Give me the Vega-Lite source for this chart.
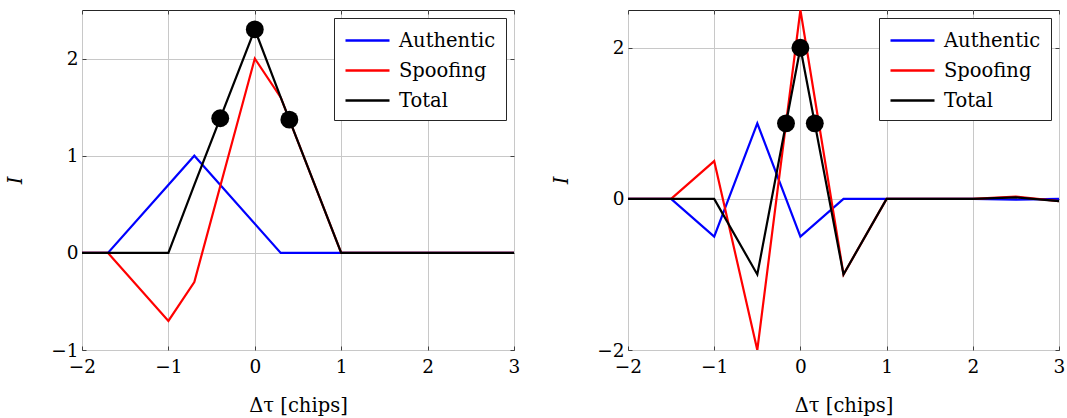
{
  "$schema": "https://vega.github.io/schema/vega-lite/v6.json",
  "padding": {"left": 5, "top": 9, "right": 0, "bottom": 0},
  "datasets": {
    "leftLines": [
      {"tau": -2, "I": 0, "series": "Authentic"},
      {"tau": -1.7, "I": 0, "series": "Authentic"},
      {"tau": -0.7, "I": 1, "series": "Authentic"},
      {"tau": 0.3, "I": 0, "series": "Authentic"},
      {"tau": 1, "I": 0, "series": "Authentic"},
      {"tau": 3, "I": 0, "series": "Authentic"},
      {"tau": -2, "I": 0, "series": "Spoofing"},
      {"tau": -1.7, "I": 0, "series": "Spoofing"},
      {"tau": -1, "I": -0.7, "series": "Spoofing"},
      {"tau": -0.7, "I": -0.3, "series": "Spoofing"},
      {"tau": 0, "I": 2, "series": "Spoofing"},
      {"tau": 0.3, "I": 1.6, "series": "Spoofing"},
      {"tau": 1, "I": 0, "series": "Spoofing"},
      {"tau": 3, "I": 0, "series": "Spoofing"},
      {"tau": -2, "I": 0, "series": "Total"},
      {"tau": -1.7, "I": 0, "series": "Total"},
      {"tau": -1, "I": 0, "series": "Total"},
      {"tau": -0.7, "I": 0.7, "series": "Total"},
      {"tau": 0, "I": 2.3, "series": "Total"},
      {"tau": 0.3, "I": 1.6, "series": "Total"},
      {"tau": 1, "I": 0, "series": "Total"},
      {"tau": 3, "I": 0, "series": "Total"}
    ],
    "leftDots": [
      {"tau": -0.4, "I": 1.386},
      {"tau": 0, "I": 2.3},
      {"tau": 0.4, "I": 1.371}
    ],
    "rightLines": [
      {"tau": -2, "I": 0, "series": "Authentic"},
      {"tau": -1.5, "I": 0, "series": "Authentic"},
      {"tau": -1, "I": -0.5, "series": "Authentic"},
      {"tau": -0.5, "I": 1, "series": "Authentic"},
      {"tau": 0, "I": -0.5, "series": "Authentic"},
      {"tau": 0.5, "I": 0, "series": "Authentic"},
      {"tau": 1, "I": 0, "series": "Authentic"},
      {"tau": 1.5, "I": 0, "series": "Authentic"},
      {"tau": 2, "I": 0, "series": "Authentic"},
      {"tau": 2.5, "I": -0.01, "series": "Authentic"},
      {"tau": 3, "I": 0, "series": "Authentic"},
      {"tau": -2, "I": 0, "series": "Spoofing"},
      {"tau": -1.5, "I": 0, "series": "Spoofing"},
      {"tau": -1, "I": 0.5, "series": "Spoofing"},
      {"tau": -0.5, "I": -2, "series": "Spoofing"},
      {"tau": 0, "I": 2.5, "series": "Spoofing"},
      {"tau": 0.5, "I": -1, "series": "Spoofing"},
      {"tau": 1, "I": 0, "series": "Spoofing"},
      {"tau": 1.5, "I": 0, "series": "Spoofing"},
      {"tau": 2, "I": 0, "series": "Spoofing"},
      {"tau": 2.5, "I": 0.03, "series": "Spoofing"},
      {"tau": 3, "I": -0.03, "series": "Spoofing"},
      {"tau": -2, "I": 0, "series": "Total"},
      {"tau": -1.5, "I": 0, "series": "Total"},
      {"tau": -1, "I": 0, "series": "Total"},
      {"tau": -0.5, "I": -1, "series": "Total"},
      {"tau": 0, "I": 2, "series": "Total"},
      {"tau": 0.5, "I": -1, "series": "Total"},
      {"tau": 1, "I": 0, "series": "Total"},
      {"tau": 1.5, "I": 0, "series": "Total"},
      {"tau": 2, "I": 0, "series": "Total"},
      {"tau": 2.5, "I": 0.02, "series": "Total"},
      {"tau": 3, "I": -0.03, "series": "Total"}
    ],
    "rightDots": [
      {"tau": -0.167, "I": 1},
      {"tau": 0, "I": 2},
      {"tau": 0.167, "I": 1}
    ]
  },
  "config": {
    "font": "DejaVu Serif",
    "view": {"stroke": "#262626", "strokeWidth": 1},
    "axis": {
      "domain": false,
      "grid": true,
      "gridColor": "#c8c8c8",
      "gridWidth": 1,
      "tickColor": "#404040",
      "tickSize": -4,
      "labelFont": "DejaVu Serif",
      "labelFontSize": 18.5,
      "labelColor": "black",
      "labelPadding": 8,
      "labelFlush": false,
      "labelOverlap": false,
      "titleFont": "DejaVu Serif",
      "titleFontSize": 19.5,
      "titleFontWeight": "normal",
      "titleColor": "black"
    },
    "axisX": {"labelPadding": 11},
    "legend": {
      "orient": "top-right",
      "offset": 8,
      "fillColor": "white",
      "strokeColor": "#262626",
      "padding": 10,
      "labelFont": "DejaVu Serif",
      "labelFontSize": 19.5,
      "labelColor": "black",
      "symbolType": "M-1,0H3",
      "symbolStrokeWidth": 2.5,
      "symbolSize": 484,
      "rowPadding": 8,
      "labelOffset": 30,
      "cornerRadius": 0
    }
  },
  "resolve": {"legend": {"color": "independent"}},
  "spacing": 30,
  "hconcat": [
    {
      "width": 432,
      "height": 340,
      "layer": [
        {
          "data": {"name": "leftLines"},
          "mark": {"type": "line", "strokeWidth": 2.2, "clip": true},
          "encoding": {
            "x": {"field": "tau", "type": "quantitative",
                  "scale": {"domain": [-2, 3], "nice": false, "zero": false},
                  "axis": {"values": [-2, -1, 0, 1, 2, 3], "title": "Δτ [chips]", "titlePadding": 21}},
            "y": {"field": "I", "type": "quantitative",
                  "scale": {"domain": [-1, 2.5], "nice": false, "zero": false},
                  "axis": {"values": [-1, 0, 1, 2], "title": "I", "titleFontStyle": "italic", "titlePadding": 25}},
            "color": {"field": "series", "type": "nominal",
                      "scale": {"domain": ["Authentic", "Spoofing", "Total"], "range": ["#0000ff", "#ff0000", "#000000"]},
                      "legend": {"title": null}}
          }
        },
        {
          "data": {"name": "leftDots"},
          "mark": {"type": "point", "filled": true, "size": 320, "color": "black", "opacity": 1},
          "encoding": {
            "x": {"field": "tau", "type": "quantitative",
                  "axis": {"orient": "top", "values": [-2, -1, 0, 1, 2, 3], "labels": false, "grid": false, "title": null}},
            "y": {"field": "I", "type": "quantitative",
                  "axis": {"orient": "right", "values": [-1, 0, 1, 2], "labels": false, "grid": false, "title": null}}
          }
        }
      ],
      "resolve": {"axis": {"x": "independent", "y": "independent"}}
    },
    {
      "width": 431,
      "height": 340,
      "layer": [
        {
          "data": {"name": "rightLines"},
          "mark": {"type": "line", "strokeWidth": 2.2, "clip": true},
          "encoding": {
            "x": {"field": "tau", "type": "quantitative",
                  "scale": {"domain": [-2, 3], "nice": false, "zero": false},
                  "axis": {"values": [-2, -1, 0, 1, 2, 3], "title": "Δτ [chips]", "titlePadding": 21}},
            "y": {"field": "I", "type": "quantitative",
                  "scale": {"domain": [-2, 2.5], "nice": false, "zero": false},
                  "axis": {"values": [-2, 0, 2], "title": "I", "titleFontStyle": "italic", "titlePadding": 25}},
            "color": {"field": "series", "type": "nominal",
                      "scale": {"domain": ["Authentic", "Spoofing", "Total"], "range": ["#0000ff", "#ff0000", "#000000"]},
                      "legend": {"title": null}}
          }
        },
        {
          "data": {"name": "rightDots"},
          "mark": {"type": "point", "filled": true, "size": 320, "color": "black", "opacity": 1},
          "encoding": {
            "x": {"field": "tau", "type": "quantitative",
                  "axis": {"orient": "top", "values": [-2, -1, 0, 1, 2, 3], "labels": false, "grid": false, "title": null}},
            "y": {"field": "I", "type": "quantitative",
                  "axis": {"orient": "right", "values": [-2, 0, 2], "labels": false, "grid": false, "title": null}}
          }
        }
      ],
      "resolve": {"axis": {"x": "independent", "y": "independent"}}
    }
  ]
}
